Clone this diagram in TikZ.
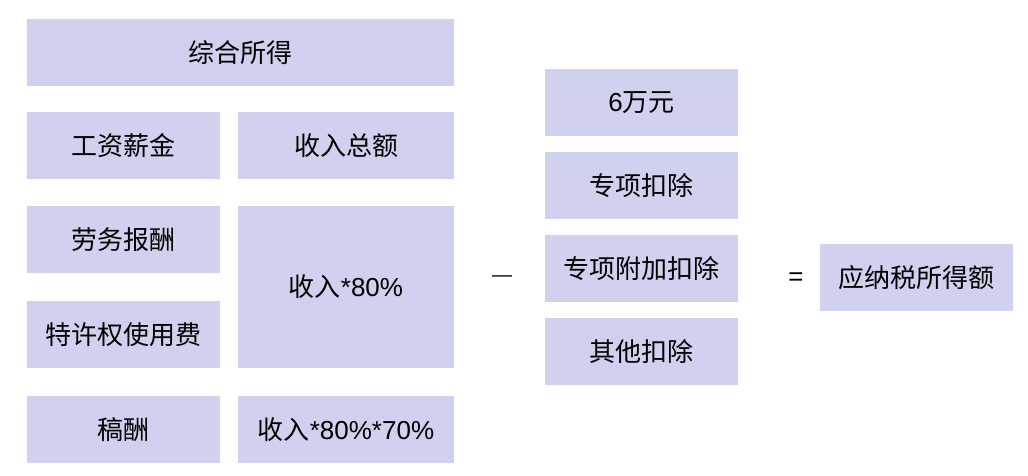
\documentclass[tikz,border=0pt]{standalone}
\usepackage{fontspec}
\setmainfont{Noto Sans CJK SC}
\newfontfamily\arialfont{Liberation Sans}
\usepackage{tikz}
\usetikzlibrary{positioning}
\definecolor{taxlav}{RGB}{208,208,239}
\tikzset{
  taxpic/.style={
    node distance=28pt
    ,inner sep=0pt
    ,outer sep=0pt
  }
  ,taxbox/.style={
    fill=taxlav,
    minimum height=67pt,
    align=center,
    font={\fontsize{26}{30}\selectfont\color{black}}
  }
  ,smallbox/.style={taxbox,minimum width=193pt}
  ,calcbox/.style={taxbox,minimum width=216pt}
  ,headbox/.style={taxbox,minimum width=427pt}
  ,opsign/.style={font={\arialfont\fontsize{20}{24}\selectfont\color{black}}}
}

\begin{document}
\begin{tikzpicture}[taxpic]
    \useasboundingbox (0,0) rectangle (1028pt,-476pt);

    % income kinds
    \node[headbox,anchor=north west] (zonghe) at (27pt,-19pt) {综合所得};
    \node[smallbox,below right=26pt and 0pt of zonghe.south west] (gongzi) {工资薪金};
    \node[calcbox,right=18pt of gongzi] (zonge) {收入总额};
    \node[smallbox,below=27pt of gongzi] (laowu) {劳务报酬};
    \node[calcbox,below=27pt of zonge,minimum height=162pt] (bashi) {收入{\arialfont *80\%}};
    \node[smallbox,below=of laowu] (texu) {特许权使用费};
    \node[smallbox,below=of texu] (gaochou) {稿酬};
    \node[calcbox,below=of bashi] (qishi) {收入{\arialfont *80\%*70\%}};

    % deductions
    \node[opsign] (jian) at (502pt,-279pt) {—};
    \node[smallbox,anchor=north west] (liuwan) at (545pt,-69pt) {{\arialfont 6}万元};
    \node[smallbox,below=16pt of liuwan] (zhuanxiang) {专项扣除};
    \node[smallbox,below=16pt of zhuanxiang] (fujia) {专项附加扣除};
    \node[smallbox,below=16pt of fujia] (qita) {其他扣除};

    % result
    \node[opsign,font={\arialfont\fontsize{26}{30}\selectfont}] (deng) at (796pt,-279.5pt) {=};
    \node[smallbox,anchor=north west] (yingna) at (820pt,-244pt) {应纳税所得额};
  \end{tikzpicture}
\end{document}
